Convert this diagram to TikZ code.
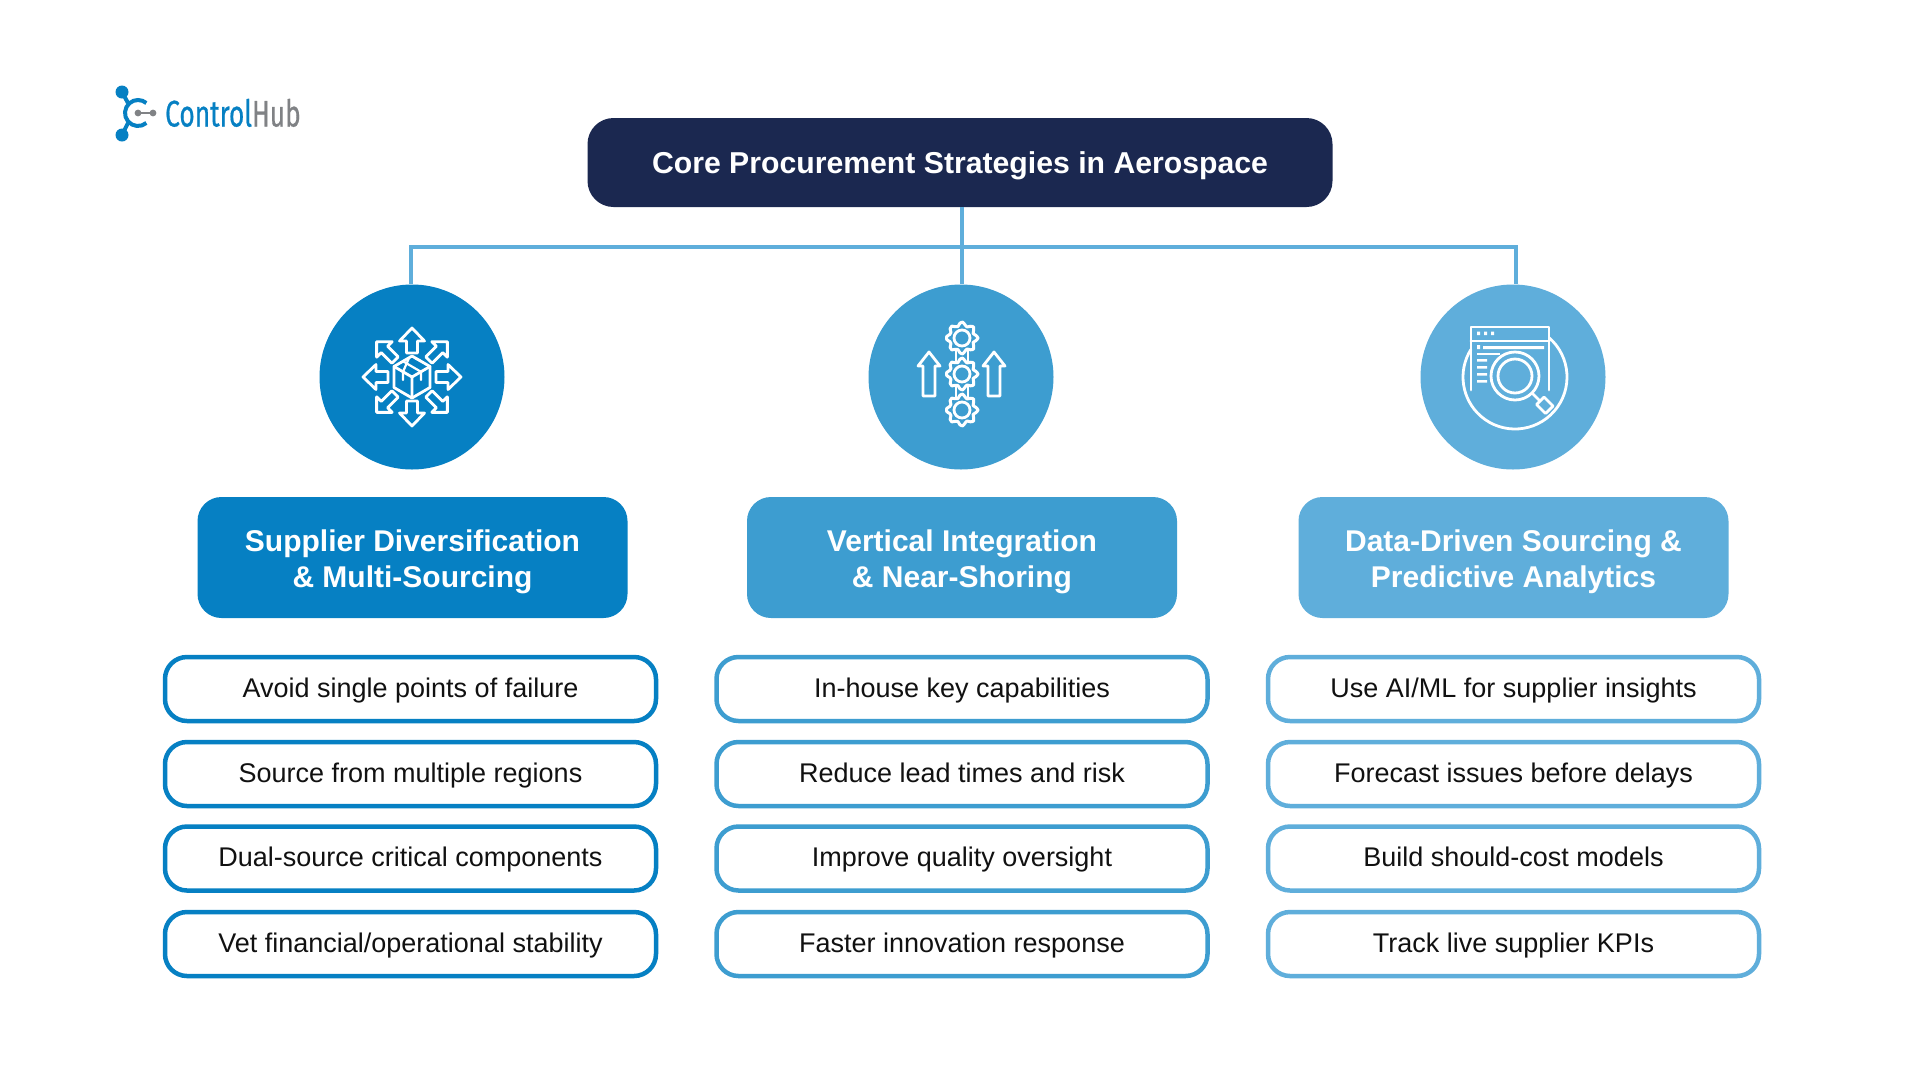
\documentclass[tikz,border=0pt]{standalone}
\usepackage{fontspec}
\setmainfont{Liberation Sans}
\newfontfamily\logofont[FakeBold=0.7]{Fira Sans}
\definecolor{navy}{HTML}{1B2850}
\definecolor{colA}{HTML}{0680C3}
\definecolor{colB}{HTML}{3D9DD0}
\definecolor{colC}{HTML}{5FAEDB}
\definecolor{logogrey}{HTML}{808285}
\definecolor{bodyink}{HTML}{111111}
\tikzset{
  titlebox/.style={rounded corners=26pt,fill=navy,text=white,minimum width=745pt,minimum height=89pt,inner sep=0pt,text height=28pt,text depth=6pt,font=\fontsize{30.2}{34}\selectfont\bfseries},
  headbox/.style={rounded corners=24pt,fill=#1,text=white,minimum width=430pt,minimum height=121pt,inner sep=0pt,align=center,text height=66pt,text depth=6.5pt,font=\fontsize{30}{36}\selectfont\bfseries},
  itembox/.style={rounded corners=22pt,draw=#1,line width=4.5pt,fill=white,text=bodyink,minimum width=491pt,minimum height=64pt,inner sep=0pt,text height=21pt,text depth=5pt,font=\fontsize{27}{30}\selectfont},
  iconcircle/.style={circle,fill=#1,minimum size=185pt,inner sep=0pt},
  linkline/.style={draw=colC,line width=4pt},
  iconline/.style={draw=white,line width=2.8pt,line join=round,line cap=round},
}
% arrow pointing outward: stem half width, head base, head half width, tip
\newcommand{\outarrow}[5]{%
  \draw[iconline,rotate around={#1:(0,0)}] (24,-#2) -- (#3,-#2) -- (#3,-#4) -- (#5,0) -- (#3,#4) -- (#3,#2) -- (24,#2) -- cycle;}
\newcommand{\upgear}[2]{%
  \begin{scope}[shift={(#1,#2)}]
    \draw[iconline,line width=3pt] plot[smooth cycle,samples=33,domain=0:348.75,tension=.5] (\x:{14+2*cos(8*\x)});
    \draw[iconline] (0,0) circle (8);
  \end{scope}}
\begin{document}
\begin{tikzpicture}[x=1pt,y=-1pt]
\useasboundingbox[fill=white] (0,0) rectangle (1920,1080);

% logo
\coordinate (lc) at (138,113);
\coordinate (lt) at (122,92);
\coordinate (lb) at (122,135);
\coordinate (lg) at (153,113);
\draw[colA,line width=4pt] (lt) -- (128,103) (lb) -- (128,123);
\draw[colA,line width=4pt] (lc) ++(50:13) arc[start angle=50,end angle=310,radius=13];
\fill[colA] (lt) circle (6.5) (lb) circle (6.5);
\draw[logogrey,line width=2.6pt] (lc) -- (lg);
\fill[logogrey] (lc) circle (3.4) (lg) circle (3.4);
\node[anchor=base west,inner sep=0pt,text=colA,font=\logofont\fontsize{37}{37}\selectfont] (logotext) at (165,126.5) {\scalebox{.71}[1]{Control\textcolor{logogrey}{Hub}}};

% title
\node[titlebox] (title) at (960,162.5) {Core Procurement Strategies in Aerospace};

% icon circles
\node[iconcircle=colA] (c1) at (412,377) {};
\node[iconcircle=colB] (c2) at (961,377) {};
\node[iconcircle=colC] (c3) at (1513,377) {};

% connectors
\coordinate (busM) at (962,246.5);
\coordinate (busL) at (411,246.5);
\coordinate (busR) at (1516,246.5);
\draw[linkline,line cap=rect] (busL) -- (busR);
\draw[linkline] (busM |- title.south) -- (busM |- c2.north);
\draw[linkline] (busL) -- (busL |- c1.north);
\draw[linkline] (busR) -- (busR |- c3.north);

% icon 1: box with arrows
\begin{scope}[shift={(412,377)}]
  \foreach \a in {0,90,180,270} {\outarrow{\a}{5.5}{36}{12.5}{49}}
  \foreach \a in {45,135,225,315} {\outarrow{\a}{4.5}{39}{11}{50}}
  \draw[iconline] (0,-21) -- (18,-10.5) -- (18,10.5) -- (0,21) -- (-18,10.5) -- (-18,-10.5) -- cycle;
  \draw[iconline] (-18,-10.5) -- (0,0) -- (18,-10.5) (0,0) -- (0,21);
  \draw[iconline,line width=2.2pt] (-9,-15.7) -- (9,-5.2) -- (9,3) (-3,-19) -- (-9,-5.2) -- (-9,3) (3,-19) -- (9,-15.7);
\end{scope}

% icon 2: gears and arrows
\draw[iconline] (956,350) -- (956,362) (968,350) -- (968,362) (956,386) -- (956,398) (968,386) -- (968,398);
\upgear{962}{338}\upgear{962}{374}\upgear{962}{410}
\foreach \ax in {929,994} {
  \draw[iconline] (\ax-6,396) -- (\ax-6,366) -- (\ax-11,366) -- (\ax,352) -- (\ax+11,366) -- (\ax+6,366) -- (\ax+6,396) -- cycle;
}

% icon 3: window and magnifier
\draw[iconline] (1515,377) ++(-49:52) arc[start angle=-49,end angle=212,radius=52];
\draw[iconline] (1471,390) -- (1471,327) -- (1549,327) -- (1549,390);
\draw[iconline] (1471,341) -- (1549,341);
\fill[white] (1477,331.5) rectangle (1480,335) (1484,331.5) rectangle (1487,335) (1491,331.5) rectangle (1494,335);
\fill[white] (1477,345) rectangle (1480,349) (1483,346) rectangle (1544,349);
\fill[white] (1477,352.5) rectangle (1500,355);
\fill[white] (1477,359) rectangle (1487,361.5) (1477,366) rectangle (1487,368.5) (1477,373) rectangle (1487,375.5) (1477,380) rectangle (1487,382.5);
\draw[iconline,fill=colC] (1515,376) circle (24);
\draw[iconline] (1515,376) circle (17);
\draw[iconline] (1533,394) -- (1539,400);
\draw[iconline,fill=colC] (1536.5,404.5) -- (1544,397) -- (1553,406) -- (1545.5,413.5) -- cycle;

% headers
\node[headbox=colA] (h1) at (412.5,557.5) {Supplier Diversification\\\& Multi-Sourcing};
\node[headbox=colB] (h2) at (962,557.5) {Vertical Integration\\\& Near-Shoring};
\node[headbox=colC] (h3) at (1513.5,557.5) {Data-Driven Sourcing \&\\Predictive Analytics};

% items
\foreach \nm/\cx/\cl/\ta/\tb/\tc/\td in {
  a/410.5/colA/Avoid single points of failure/Source from multiple regions/Dual-source critical components/Vet financial\slash operational stability,
  b/962/colB/In-house key capabilities/Reduce lead times and risk/Improve quality oversight/Faster innovation response,
  c/1513.5/colC/Use AI\slash ML for supplier insights/Forecast issues before delays/Build should-cost models/Track live supplier KPIs}{
  \node[itembox=\cl] (\nm1) at (\cx,689) {\ta};
  \node[itembox=\cl] (\nm2) at (\cx,774) {\tb};
  \node[itembox=\cl] (\nm3) at (\cx,858.5) {\tc};
  \node[itembox=\cl] (\nm4) at (\cx,944) {\td};
}
\end{tikzpicture}
\end{document}
